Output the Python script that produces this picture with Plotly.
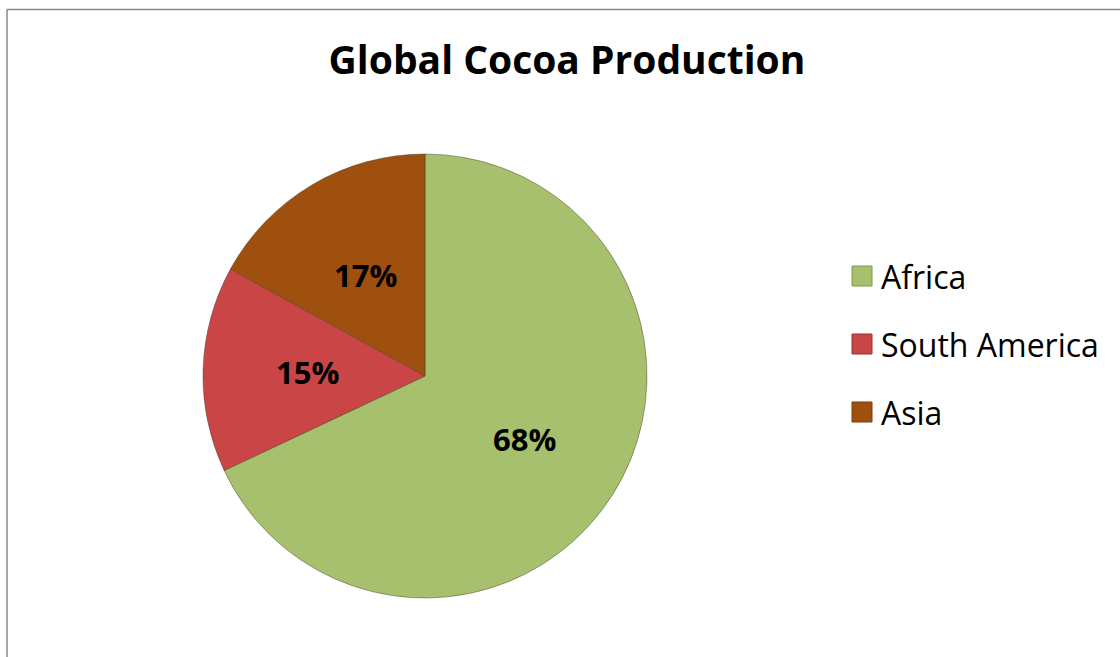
import math
import plotly.graph_objects as go

regions = ["Africa", "South America", "Asia"]
shares = [68, 15, 17]
colors = ["#A6C06E", "#CA4646", "#A0500E"]
edge_colors = ["#7E9A4C", "#9A2E2E", "#7A3A06"]
title_text = "Global Cocoa Production"

W, H = 1120, 657
FONT = "Open Sans"

# pie geometry (pixels)
dom_x = [203 / W, 647 / W]
dom_y = [1 - 598 / H, 1 - 154 / H]
cx = (dom_x[0] + dom_x[1]) / 2 * W
cy = (1 - (dom_y[0] + dom_y[1]) / 2) * H
radius = (dom_x[1] - dom_x[0]) * W / 2
label_frac = 0.53

fig = go.Figure()
fig.add_trace(go.Pie(
    labels=regions,
    values=shares,
    sort=False,
    direction="clockwise",
    rotation=0,
    marker=dict(colors=colors, line=dict(color="rgba(60,60,30,0.45)", width=1)),
    textinfo="none",
    hoverinfo="label+percent",
    showlegend=False,
    domain=dict(x=dom_x, y=dom_y),
))

shapes = [
    dict(type="line", xref="paper", yref="paper", x0=7 / W, x1=1, y0=1 - 9.5 / H, y1=1 - 9.5 / H,
         line=dict(color="#878787", width=1.5)),
    dict(type="line", xref="paper", yref="paper", x0=7 / W, x1=7 / W, y0=0, y1=1 - 9.5 / H,
         line=dict(color="#878787", width=1.5)),
]
annotations = []

# percentage labels at the middle angle of each slice
total = sum(shares)
cum = 0
for v in shares:
    mid = (cum + v / 2) / total * 2 * math.pi
    cum += v
    px = cx + label_frac * radius * math.sin(mid)
    py = cy - label_frac * radius * math.cos(mid)
    annotations.append(dict(text=f"{round(100 * v / total)}%", xref="paper", yref="paper",
                            x=px / W, y=1 - py / H, xanchor="center", yanchor="middle",
                            showarrow=False,
                            font=dict(family=FONT, size=31, color="black", weight="bold")))

legend_y = [276, 344, 412]
for name, col, ec, yc in zip(regions, colors, edge_colors, legend_y):
    shapes.append(dict(type="rect", xref="paper", yref="paper",
                       x0=852 / W, x1=872 / W, y0=1 - (yc + 10) / H, y1=1 - (yc - 10) / H,
                       fillcolor=col, line=dict(color=ec, width=1)))
    annotations.append(dict(text=name, xref="paper", yref="paper", x=879 / W, y=1 - yc / H,
                            xanchor="left", yanchor="middle", showarrow=False,
                            font=dict(family=FONT, size=32, color="black")))

fig.update_layout(
    width=W, height=H,
    margin=dict(l=0, r=0, t=0, b=0),
    paper_bgcolor="white", plot_bgcolor="white",
    title=dict(text=title_text, x=567 / W, xanchor="center", y=1 - 60 / H, yanchor="middle",
               font=dict(family=FONT, size=39, color="black", weight="bold")),
    shapes=shapes,
    annotations=annotations,
)

fig.write_html("out.html")
